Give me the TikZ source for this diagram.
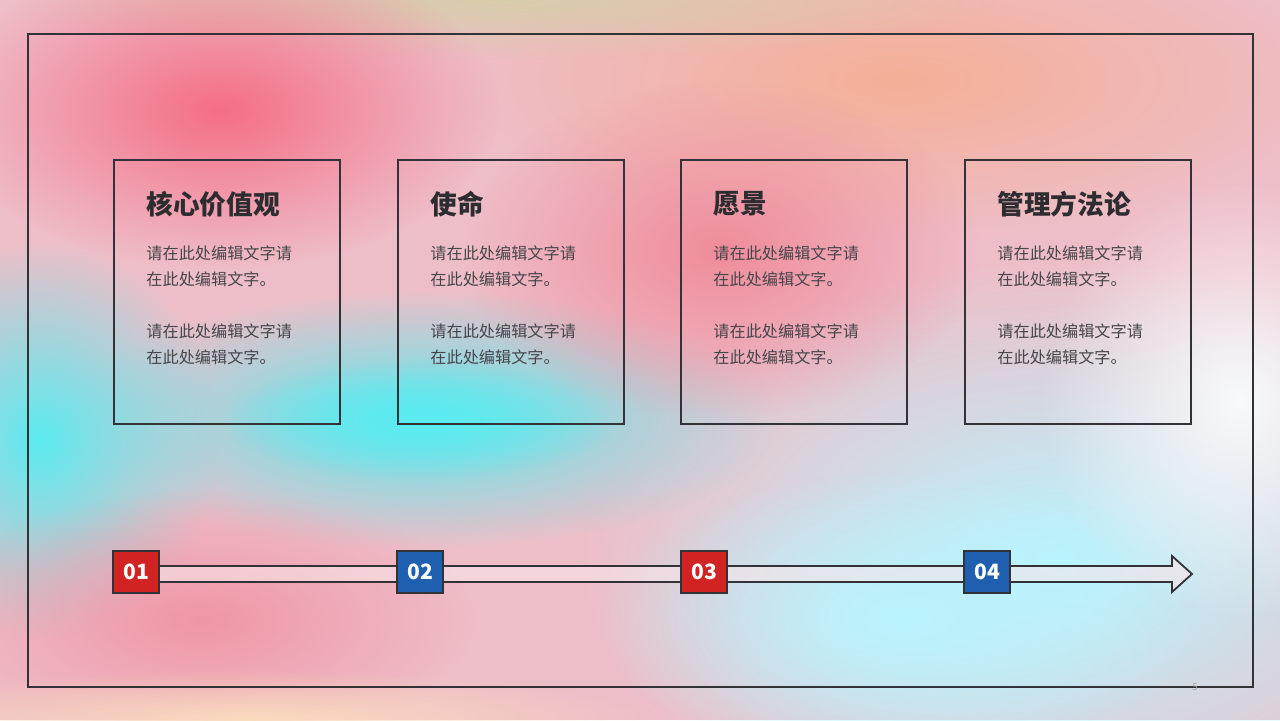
\documentclass[tikz,border=0pt]{standalone}
\usepackage{fontspec}
\setmainfont{Noto Sans CJK SC}
\usetikzlibrary{fadings}
\tikzfading[name=fuzzy, inner color=transparent!0, outer color=transparent!100]
\definecolor{edge}{RGB}{50,50,55}
\definecolor{redmark}{RGB}{210,35,35}
\definecolor{bluemark}{RGB}{30,95,175}
\definecolor{bodytext}{RGB}{70,70,75}
\definecolor{base}{RGB}{238,190,200}
\tikzset{
  card/.style={draw=edge, line width=1mm, minimum width=11.3cm, minimum height=13.2cm, anchor=north west},
  heading/.style={anchor=west, font=\bfseries\fontsize{38}{40}\selectfont, text=edge!90!black},
  body/.style={anchor=north west, align=left, font=\fontsize{23}{37}\selectfont, text=bodytext},
  stepmark/.style={draw=edge, line width=0.9mm, minimum width=2.3cm, minimum height=2.1cm, inner sep=0pt,
    text=white, font=\bfseries\fontsize{30}{32}\selectfont},
  blob/.style={path fading=fuzzy}
}
\begin{document}
\begin{tikzpicture}[x=0.05cm, y=-0.05cm]
  \useasboundingbox (0,0) rectangle (1280,720);
  % background
  \fill[base] (0,0) rectangle (1280,720);
  \begin{scope}
    \clip (0,0) rectangle (1280,720);
    \fill[blob, color={rgb,255:red,245;green,175;blue,150}] (900,80) ellipse (450 and 160);
    \fill[blob, color={rgb,255:red,215;green,205;blue,170}] (500,0) ellipse (500 and 60);
    \fill[blob, color={rgb,255:red,185;green,245;blue,255}] (1060,560) ellipse (480 and 300);
    \fill[blob, color={rgb,255:red,185;green,245;blue,255}] (900,620) ellipse (300 and 150);
    \fill[blob, color={rgb,255:red,248;green,250;blue,252}] (1240,400) ellipse (200 and 220);
    \fill[blob, color={rgb,255:red,90;green,235;blue,240}] (420,420) ellipse (360 and 130);
    \fill[blob, color={rgb,255:red,90;green,235;blue,240}] (420,420) ellipse (200 and 60);
    \fill[blob, color={rgb,255:red,90;green,235;blue,240}] (40,440) ellipse (180 and 200);
    \fill[blob, color={rgb,255:red,245;green,110;blue,135}] (220,110) ellipse (280 and 160);
    \fill[blob, color={rgb,255:red,240;green,140;blue,155}] (720,250) ellipse (260 and 170);
    \fill[blob, color={rgb,255:red,240;green,150;blue,165}] (200,620) ellipse (280 and 130);
    \fill[blob, color={rgb,255:red,250;green,220;blue,190}] (250,720) ellipse (400 and 50);
  \end{scope}
  % frame
  \draw[edge, line width=1mm] (28,34) rectangle (1253,687);
  % cards
  \foreach \x/\title [count=\i] in {113/核心价值观, 397/使命, 680/愿景, 964/管理方法论} {
    \node[card] (card\i) at (\x,159) {};
    \node[heading] (title\i) at (\x+31,204) {\title};
    \node[body] (text\i) at (\x+31,243) {请在此处编辑文字请\\在此处编辑文字。\\[37pt]请在此处编辑文字请\\在此处编辑文字。};
  }
  % timeline arrow
  \draw[edge, line width=0.9mm, fill=white!60!base, fill opacity=0.6]
    (136,566) -- (1172,566) -- (1172,556) -- (1192,574) -- (1172,592) -- (1172,582) -- (136,582) -- cycle;
  \foreach \x/\c [count=\i] in {136/redmark, 420/bluemark, 704/redmark, 987/bluemark} {
    \node[stepmark, fill=\c] (step\i) at (\x,572) {0\i};
  }
  \node[text=gray!70, font=\fontsize{14}{14}\selectfont] (page) at (1195,687) {5};
\end{tikzpicture}
\end{document}
